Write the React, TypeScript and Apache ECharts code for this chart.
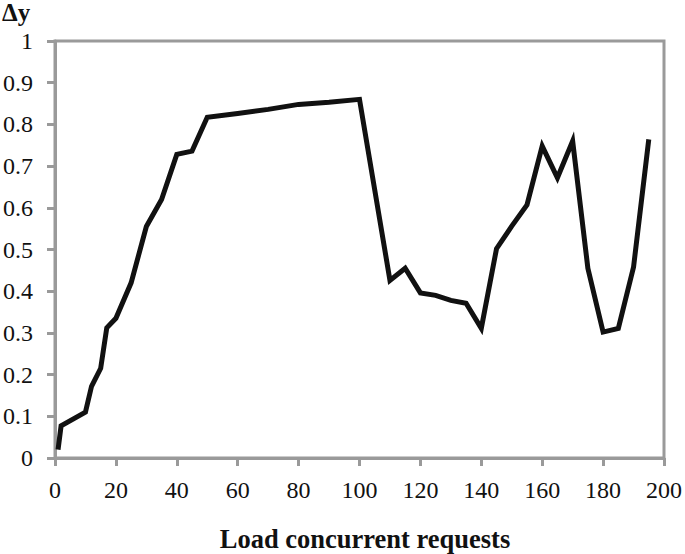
import React, { useEffect, useRef } from "react";
import * as echarts from "echarts";

const loadX: number[] = [1, 2, 10, 12, 15, 17, 20, 25, 30, 35, 40, 45, 50, 60, 70, 80, 90, 100, 110, 115, 120, 125, 130, 135, 140, 145, 150, 155, 160, 165, 170, 175, 180, 185, 190, 195];
const deltaY: number[] = [0.02, 0.077, 0.11, 0.172, 0.215, 0.312, 0.335, 0.42, 0.555, 0.62, 0.728, 0.736, 0.817, 0.826, 0.836, 0.848, 0.853, 0.86, 0.426, 0.455, 0.396, 0.39, 0.378, 0.371, 0.311, 0.502, 0.556, 0.607, 0.748, 0.672, 0.76, 0.455, 0.302, 0.311, 0.458, 0.764];
const xTicks = { min: 0, max: 200, interval: 20 };
const yTicks = { min: 0, max: 1, interval: 0.1 };
const xTitle = "Load concurrent requests";
const yTitle = "Δy";

const GRAY = "#9a9a9a";
const FONT = "Liberation Serif";

export default function App() {
  const ref = useRef<HTMLDivElement>(null);
  useEffect(() => {
    if (!ref.current) return;
    const chart = echarts.init(ref.current, undefined, { renderer: "svg" });
    chart.setOption({
      animation: false,
      backgroundColor: "#ffffff",
      textStyle: { fontFamily: FONT },
      grid: {
        left: 54,
        right: 21,
        top: 41,
        bottom: 96,
        show: true,
        borderColor: GRAY,
        borderWidth: 3,
      },
      xAxis: {
        type: "value",
        min: xTicks.min,
        max: xTicks.max,
        interval: xTicks.interval,
        axisLine: { show: true, lineStyle: { color: GRAY, width: 3 } },
        axisTick: { show: true, length: 8, lineStyle: { color: GRAY, width: 3 } },
        splitLine: { show: false },
        axisLabel: {
          color: "#111",
          fontFamily: FONT,
          fontSize: 24,
          margin: 20,
        },
      },
      yAxis: {
        type: "value",
        min: yTicks.min,
        max: yTicks.max,
        interval: yTicks.interval,
        axisLine: { show: true, lineStyle: { color: GRAY, width: 3 } },
        axisTick: { show: true, length: 8, lineStyle: { color: GRAY, width: 3 } },
        splitLine: { show: false },
        axisLabel: {
          color: "#111",
          fontFamily: FONT,
          fontSize: 24,
          margin: 22,
          formatter: (v: number) => String(Math.round(v * 10) / 10),
        },
      },
      graphic: [
        {
          type: "text",
          left: 2,
          top: 0,
          style: {
            text: yTitle,
            fill: "#111",
            fontFamily: FONT,
            fontWeight: "bold",
            fontSize: 25,
          },
        },
        {
          type: "text",
          x: 365,
          y: 539,
          style: {
            text: xTitle,
            fill: "#111",
            fontFamily: FONT,
            fontWeight: "bold",
            fontSize: 26.5,
            align: "center",
            verticalAlign: "middle",
          },
        },
      ],
      series: [
        {
          type: "line",
          data: loadX.map((x, i) => [x, deltaY[i]]),
          showSymbol: false,
          symbol: "none",
          lineStyle: { color: "#111", width: 5, join: "miter" },
          itemStyle: { color: "#111" },
        },
      ],
    });
    return () => chart.dispose();
  }, []);
  return <div ref={ref} style={{ width: 685, height: 554, position: "absolute", left: 0, top: 0 }} />;
}
